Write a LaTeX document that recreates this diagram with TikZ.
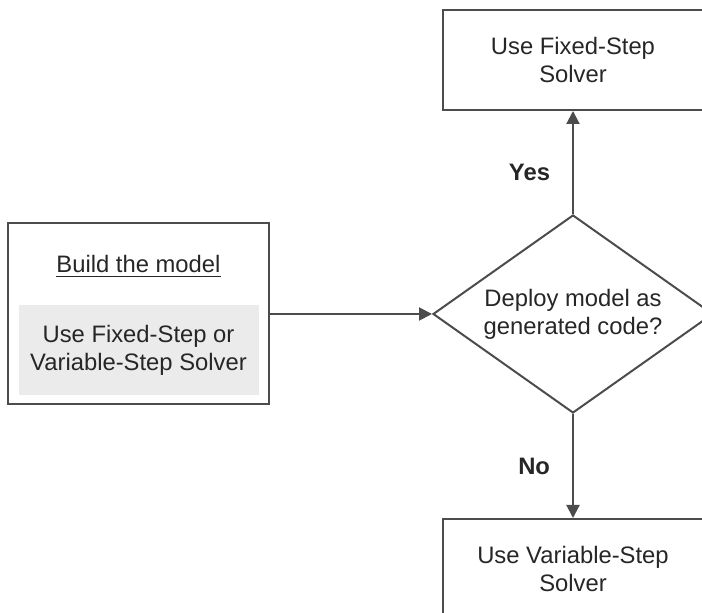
\documentclass[tikz,border=0pt]{standalone}
\usepackage{fontspec}
\setmainfont{Liberation Sans}
\usetikzlibrary{arrows.meta,positioning,shapes.geometric}

\begin{document}
\begin{tikzpicture}[x=0.5pt, y=-0.5pt,
  every node/.style={font=\fontsize{11.9}{14}\selectfont, text=black!85},
  box/.style={draw=black!70, line width=1pt, align=center, minimum width=130pt, minimum height=50pt},
  decision/.style={diamond, aspect=1.414, draw=black!70, line width=1pt, align=center, minimum width=140pt, minimum height=99pt, inner sep=0pt},
  solverbox/.style={fill=black!8, align=center, minimum width=120pt, minimum height=45pt},
  lbl/.style={font=\fontsize{11.9}{14}\selectfont\bfseries, inner sep=0pt},
  arr/.style={-{Triangle[length=6.5pt, width=6.5pt]}, draw=black!70, line width=1pt}]
  \useasboundingbox (0,0) rectangle (702,613);
  \clip (0,0) rectangle (702,613);
  \node[decision] (deploy) at (573,314) {Deploy model as\\generated code?};
  \node[box, above=51.5pt of deploy] (fixed) {Use Fixed-Step\\Solver};
  \node[box, below=52pt of deploy] (variable) {Use Variable-Step\\Solver};
  \node[box, minimum width=130.5pt, minimum height=90.5pt, left=81pt of deploy] (build) {};
  \node (title) at ([yshift=-22pt]build.north) {\underline{Build the model}};
  \node[solverbox, anchor=south] (either) at ([yshift=5pt]build.south) {Use Fixed-Step or\\Variable-Step Solver};
  \draw[arr] (build) -- (deploy);
  \draw[arr] (deploy) -- node[lbl, pos=0.4, left=11pt] (yes) {Yes} (fixed);
  \draw[arr] (deploy) -- node[lbl, left=11pt] (no) {No} (variable);
\end{tikzpicture}
\end{document}
